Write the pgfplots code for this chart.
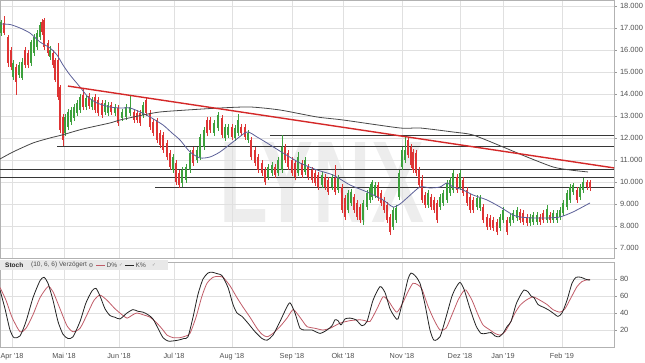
\documentclass[border=0pt]{standalone}
\usepackage{pgfplots}
\pgfplotsset{compat=1.18}
\usepackage{pgfplotstable}
\usepackage{graphicx}
\usepackage{fontspec}
\setmainfont{Liberation Sans}
\newfontfamily\sym{DejaVu Sans}
\definecolor{cgreen}{RGB}{60,160,60}
\definecolor{cred}{RGB}{222,52,52}
\definecolor{mafast}{RGB}{92,96,152}
\definecolor{maslow}{RGB}{70,70,70}
\definecolor{trend}{RGB}{212,40,40}
\definecolor{hline}{RGB}{55,55,55}
\definecolor{kcol}{RGB}{35,35,35}
\definecolor{dcol}{RGB}{192,92,104}
\definecolor{gridc}{RGB}{224,224,224}
\definecolor{labc}{RGB}{80,80,80}

\pgfplotstableread{
x o h l c
1 16770 17360 16640 17270
4 17230 17550 16680 16770
8 16590 16680 15230 15410
11 16000 16140 15090 15230
13 14770 15550 14640 15410
16 15230 15360 13960 14550
19 14860 15460 14730 15320
22 14730 15640 14640 15460
25 16000 16140 15180 15320
28 15860 16000 15180 15320
31 15410 16460 15270 16360
34 15860 16730 15730 16590
37 16140 16910 16000 16770
40 16590 17270 16460 17140
42 17270 17410 16680 16820
44 17360 17460 16000 16140
48 16320 16460 15730 15860
50 15680 16180 15550 16000
53 15860 16000 15180 15320
55 15550 15640 14550 14640
58 15550 16320 13730 13860
60 14320 14410 12230 12360
63 12960 13090 11640 11910
65 12230 13090 12090 12960
68 12500 13320 12360 13180
71 12730 13410 12590 13270
74 12910 13550 12770 13410
77 13140 13730 13000 13590
80 13270 14000 13140 13860
83 13960 14270 13270 13410
86 13410 13960 13270 13820
89 13910 14050 13320 13460
92 13410 13860 13270 13730
95 13860 14000 13140 13270
98 13730 13860 13000 13140
102 13590 13730 12910 13050
105 13180 13730 13050 13590
108 13140 13640 13000 13500
111 13500 13640 13050 13180
115 13140 13550 13000 13410
118 13360 13500 12550 12680
122 12910 13320 12770 13180
126 12960 13550 12820 13410
130 13140 13960 13000 13410
134 13180 13320 12680 12820
137 13140 13270 12680 12820
140 13140 13270 12550 12680
143 13050 13640 12910 13500
146 13730 13820 13000 13140
150 13140 13270 12360 12500
153 12730 12860 12090 12230
157 12820 12910 11770 11910
160 12230 12360 11550 11680
163 12140 12270 11320 11460
167 11770 11910 11000 11140
170 11320 11460 10550 10680
173 10550 11270 10410 11140
176 10860 11000 9870 10000
179 10410 10550 9730 9870
182 9960 10680 9770 10550
186 10090 10820 9960 10680
190 10550 11460 10410 11320
193 11460 11590 10730 10860
197 11000 11590 10860 11460
200 11140 12180 11000 12050
204 11590 12500 11460 12360
207 12820 12960 12090 12230
210 12820 12960 12230 12360
214 12230 12820 12090 12680
218 12460 13180 12320 13050
222 12910 13050 12000 12140
225 12000 12640 11860 12500
228 12140 12640 12000 12500
232 12500 12640 11910 12050
235 12000 12590 11860 12460
238 12230 13090 12090 12820
241 12500 12640 12090 12230
245 12500 12640 11910 12050
248 11910 12360 11770 12230
251 11910 12050 11000 11140
255 11460 11590 10730 10860
258 11140 11270 10410 10550
262 10860 11000 10270 10410
265 10550 10680 9870 10000
268 10230 10820 10090 10680
272 10410 10910 10270 10770
275 10680 10820 10180 10320
278 10410 11140 10270 11000
282 10550 12140 10410 11590
285 11590 11730 10860 11000
288 11320 11460 10550 10680
292 11000 11140 10270 10410
295 10860 11000 10090 10230
298 10410 11360 10270 11140
302 10860 11000 10180 10320
305 10460 11140 10320 11000
308 10680 10820 10090 10230
312 10550 10680 9960 10090
315 10410 10550 9820 9960
318 10320 10460 9640 9770
322 9870 10460 9730 10320
325 10230 10360 9640 9770
328 10090 10230 9410 9550
332 9770 10360 9640 10230
335 10180 10770 9410 9550
338 9640 10320 9500 10180
342 9770 9910 8590 8730
345 9270 9410 8270 8410
348 8730 9640 8590 9500
351 9050 9680 8910 9550
354 9320 9460 8590 8730
357 9050 9180 8270 8410
360 8870 9000 8140 8270
363 8270 9180 8050 9050
367 8870 9640 8730 9500
370 9180 9910 9050 9770
372 9320 10090 9180 10000
375 9410 10000 9270 9870
378 9870 10000 9140 9270
381 9500 9640 8910 9050
384 9180 9320 8590 8730
387 8960 9090 8140 8270
390 8410 8550 7590 7730
393 7960 8870 7820 8730
396 8270 8960 8140 8820
399 9320 10550 9180 10410
402 10680 11590 10550 11460
405 11000 12050 10860 11460
408 11910 12050 11090 11230
411 11590 11730 10640 10770
413 11370 11500 10410 10550
416 11320 11460 10270 10410
419 10550 10680 9730 9870
422 10090 10320 9050 9180
425 9410 9550 8820 8960
428 8960 9640 8820 9500
431 9320 9460 8730 8870
434 9180 9320 8590 8730
437 9050 9180 8140 8270
440 8870 9460 8730 9320
443 9050 9640 8910 9500
447 9180 10090 9050 9960
450 9500 10230 9370 10090
453 9640 10550 9500 10410
457 10230 10360 9500 9640
460 9770 10550 9640 10410
463 10090 10230 9370 9500
467 9640 9770 8910 9050
470 9320 9460 8590 8730
473 9180 9320 8590 8730
477 8870 9410 8730 9270
480 8820 9410 8680 9270
483 8870 9000 8140 8270
487 8410 8550 7820 7960
490 8370 8500 7820 7960
493 8270 8410 7770 7910
497 8180 8320 7590 7730
500 7910 8550 7770 8410
503 8270 8870 8140 8730
507 8270 8410 7590 7730
510 8140 8550 8000 8410
513 8270 8730 8140 8590
517 8370 8870 8230 8730
520 8640 8770 8140 8270
523 8590 8730 8050 8180
527 8410 8550 8000 8140
530 8140 8550 8000 8410
533 8180 8640 8050 8500
537 8180 8640 8050 8500
540 8410 8550 8050 8180
543 8590 8730 8140 8270
547 8270 8960 8140 8770
550 8500 8640 8140 8270
553 8270 8730 8140 8590
557 8270 8730 8140 8590
560 8410 8870 8270 8730
563 8590 9180 8460 9050
567 8870 9640 8730 9500
570 9180 9910 9050 9770
573 9550 9960 9410 9870
577 9640 9770 9050 9180
580 9320 9910 9180 9770
583 9640 10180 9500 10000
587 10000 10090 9640 9770
590 10000 10090 9590 9730
}\candles

\pgfplotstableread{
x k
0 67
5 45
10 20
14 11
20 13
26 30
33 58
40 78
44 82
48 75
53 55
58 30
63 15
68 10
73 12
80 30
86 52
92 66
96 69
100 60
105 45
110 37
115 35
120 33
127 40
133 44
138 42
143 41
148 38
153 33
158 22
163 11
168 7
172 7
178 8
184 10
188 12
193 35
198 62
203 80
208 87
212 88
218 86
222 84
228 70
233 50
237 40
242 36
248 28
255 18
262 10
267 8
273 14
280 30
286 45
290 52
295 40
300 22
305 20
312 20
320 16
327 20
332 25
335 32
338 31
341 26
345 33
350 34
356 32
362 25
367 30
373 55
380 71
385 64
390 45
395 35
398 33
403 55
408 80
411 87
415 84
420 75
425 50
430 20
434 8
440 12
446 35
452 60
456 70
460 76
464 68
470 45
476 25
481 16
486 16
491 17
495 13
499 12
503 16
507 24
511 30
516 50
520 60
524 67
528 65
531 60
534 58
538 50
543 47
548 44
553 40
558 36
562 40
567 55
572 75
576 82
581 82
585 80
588 79
590 79
}\stochk

\pgfplotstableread{
x d
0 70
6 55
12 35
20 18
26 22
33 38
40 58
48 71
53 65
60 45
67 25
73 18
80 22
87 38
94 55
100 61
107 55
115 45
122 38
127 34
133 38
137 40
143 38
150 35
157 28
163 20
167 14
173 11
180 11
186 13
190 16
196 35
202 60
207 75
213 82
218 83
223 82
230 72
237 58
243 47
250 35
257 22
262 15
267 12
273 16
280 24
287 34
293 44
298 38
303 30
307 24
315 22
323 20
330 22
340 28
350 31
360 32
365 31
370 30
377 45
383 59
388 55
393 46
397 41
402 50
408 65
413 75
418 73
422 68
428 48
434 32
440 20
446 22
452 38
458 55
463 65
466 67
472 55
478 38
483 26
490 20
495 16
500 14
505 18
510 28
515 40
520 49
526 55
533 59
540 55
547 50
553 44
560 41
565 45
571 58
577 71
582 77
587 79
590 79
}\stochd

\begin{document}
\begin{tikzpicture}
\path[use as bounding box] (0pt,0pt) rectangle (645pt,-363pt);
% watermark
\node[text=black!7, inner sep=0] at (322pt,-182pt) {\resizebox{205pt}{80pt}{\bfseries LYNX}};

\begin{axis}[
  at={(0pt,-258pt)}, anchor=south west,
  scale only axis, width=614pt, height=258pt,
  xmin=0, xmax=614, ymin=6545, ymax=18273,
  axis line style={draw=black!30},
  xtick={12,64,119,174,232,292,343,402,460,503,562},
  xticklabels={},
  xtick style={draw=none},
  ytick={7000,8000,...,18000},
  yticklabel pos=right,
  ytick style={draw=black!40},
  tick align=outside, major tick length=2.5pt,
  grid=major, major grid style={draw=gridc, line width=0.4pt},
  scaled y ticks=false,
  yticklabel style={font=\fontsize{7.5}{8}\selectfont, text=labc,
    /pgf/number format/.cd, fixed, 1000 sep={.}, assume math mode=true},
  candle/.style={draw=none, mark=none, forget plot},
]
% horizontal support / resistance lines
\addplot[hline, line width=0.6pt] coordinates {(270,12140) (614,12140)};
\addplot[hline, line width=0.6pt] coordinates {(57,11640) (614,11640)};
\addplot[hline, line width=0.6pt] coordinates {(0,10590) (614,10590)};
\addplot[hline, line width=0.6pt] coordinates {(0,10230) (614,10230)};
\addplot[hline, line width=0.6pt] coordinates {(155,9770) (614,9770)};
% wicks
\addplot[candle,
  restrict expr to domain={\thisrow{c}-\thisrow{o}}{0:100000},
  error bars/.cd, y dir=plus, y explicit, error mark=none,
  error bar style={line width=0.7pt, draw=cgreen}]
  table[x=x, y=l, y error plus expr={\thisrow{h}-\thisrow{l}}] {\candles};
\addplot[candle,
  restrict expr to domain={\thisrow{c}-\thisrow{o}}{-100000:-0.5},
  error bars/.cd, y dir=plus, y explicit, error mark=none,
  error bar style={line width=0.7pt, draw=cred}]
  table[x=x, y=l, y error plus expr={\thisrow{h}-\thisrow{l}}] {\candles};
% bodies
\addplot[candle,
  restrict expr to domain={\thisrow{c}-\thisrow{o}}{0:100000},
  error bars/.cd, y dir=both, y explicit, error mark=none,
  error bar style={line width=2pt, draw=cgreen}]
  table[x=x, y expr={(\thisrow{o}+\thisrow{c})/2}, y error expr={abs(\thisrow{c}-\thisrow{o})/2}] {\candles};
\addplot[candle,
  restrict expr to domain={\thisrow{c}-\thisrow{o}}{-100000:-0.5},
  error bars/.cd, y dir=both, y explicit, error mark=none,
  error bar style={line width=2pt, draw=cred}]
  table[x=x, y expr={(\thisrow{o}+\thisrow{c})/2}, y error expr={abs(\thisrow{c}-\thisrow{o})/2}] {\candles};
% moving averages
\addplot[mafast, line width=0.8pt, smooth, tension=0.4] coordinates {
(0,17182) (10,17160) (20,17000) (30,16770) (40,16364) (50,16091) (57,15773) (63,15319) (70,14864) (80,14319) (88,13864) (97,13592) (110,13410) (120,13364) (130,13364) (140,13183) (150,12955) (163,12592) (172,12228) (180,11910) (190,11365) (200,11092) (210,11137) (220,11365) (233,11819) (247,12273) (257,12046) (267,11774) (283,11319) (300,10865) (317,10546) (333,10319) (350,9865) (367,9547) (383,9183) (393,8865) (400,9000) (407,9274) (420,9774) (430,9729) (440,9774) (447,9956) (453,9774) (463,9637) (473,9410) (487,9183) (500,8865) (513,8501) (520,8410) (533,8365) (547,8365) (560,8410) (573,8638) (590,9047)};
\addplot[maslow, line width=0.8pt, smooth, tension=0.4] coordinates {
(0,11046) (13,11365) (33,11774) (50,12001) (62,12137) (83,12410) (110,12683) (120,12819) (143,13046) (160,13183) (187,13273) (220,13364) (250,13410) (280,13273) (317,12955) (343,12819) (400,12455) (420,12455) (453,12273) (473,12137) (503,11592) (527,11137) (553,10683) (570,10546) (588,10456)};
% trend line
\addplot[trend, line width=1.4pt] coordinates {(68,14360) (614,10640)};
\end{axis}

\begin{axis}[
  at={(0pt,-347pt)}, anchor=south west,
  scale only axis, width=614pt, height=85pt,
  xmin=0, xmax=614, ymin=0, ymax=100,
  axis line style={draw=black!30},
  xtick={12,64,119,174,232,292,343,402,460,503,562},
  xticklabels={Apr \textquotesingle18, Mai \textquotesingle18, Jun \textquotesingle18, Jul \textquotesingle18, Aug \textquotesingle18, Sep \textquotesingle18, Okt \textquotesingle18, Nov \textquotesingle18, Dez \textquotesingle18, Jan \textquotesingle19, Feb \textquotesingle19},
  xtick style={draw=none},
  ytick={20,40,60,80},
  yticklabel pos=right,
  ytick style={draw=black!40},
  tick align=outside, major tick length=2.5pt,
  grid=major, major grid style={draw=gridc, line width=0.4pt},
  xticklabel style={font=\fontsize{7.3}{8}\selectfont, text=labc},
  yticklabel style={font=\fontsize{7.5}{8}\selectfont, text=labc,
    /pgf/number format/assume math mode=true},
]
\addplot[dcol, line width=0.8pt, smooth, tension=0.4] table[x=x, y=d] {\stochd};
\addplot[kcol, line width=0.8pt, smooth, tension=0.4] table[x=x, y=k] {\stochk};
\end{axis}

% indicator legend
\fill[black!9] (0pt,-260pt) rectangle (168pt,-270.5pt);
\begin{scope}[every node/.style={anchor=west, inner sep=0pt, font=\fontsize{6.5}{7}\selectfont, text=black!70}]
\node[font=\fontsize{6.5}{7}\selectfont\bfseries, text=black!85] at (5pt,-265.3pt) {Stoch};
\node at (31pt,-265.3pt) {(10, 6, 6) Verzögert};
\node[font=\sym\fontsize{5.5}{6}\selectfont, text=black!60] at (88.5pt,-265.3pt) {⚙};
\draw[dcol, line width=1pt] (96pt,-265.3pt) -- (105pt,-265.3pt);
\node at (106.5pt,-265.3pt) {D\%};
\node[font=\sym\fontsize{4.5}{5}\selectfont, text=black!45] at (119pt,-265.3pt) {✓};
\draw[kcol, line width=1pt] (125pt,-265.3pt) -- (134pt,-265.3pt);
\node at (135.5pt,-265.3pt) {K\%};
\node[font=\sym\fontsize{4.5}{5}\selectfont, text=black!45] at (152pt,-265.3pt) {✓};
\end{scope}
\end{tikzpicture}
\end{document}
